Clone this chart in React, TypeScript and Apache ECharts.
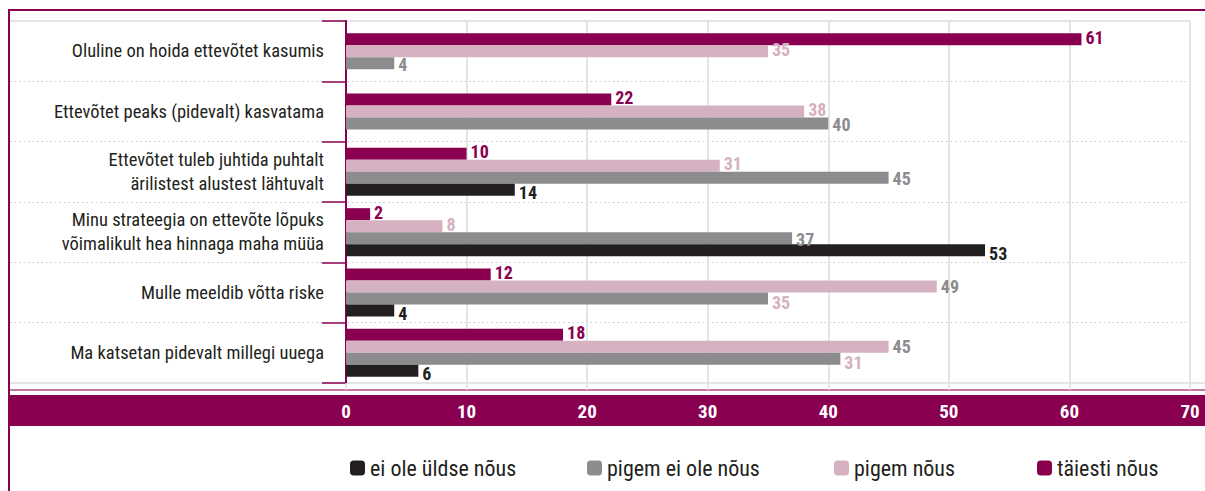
import React, { useEffect, useRef } from "react";
import * as echarts from "echarts";

const categories = [
  "Oluline on hoida ettevõtet kasumis",
  "Ettevõtet peaks (pidevalt) kasvatama",
  "Ettevõtet tuleb juhtida puhtalt\närilistest alustest lähtuvalt",
  "Minu strateegia on ettevõte lõpuks\nvõimalikult hea hinnaga maha müüa",
  "Mulle meeldib võtta riske",
  "Ma katsetan pidevalt millegi uuega",
];

const seriesNames = ["täiesti nõus", "pigem nõus", "pigem ei ole nõus", "ei ole üldse nõus"];
const legendOrder = ["ei ole üldse nõus", "pigem ei ole nõus", "pigem nõus", "täiesti nõus"];

const taiestiNous: (number | null)[] = [61, 22, 10, 2, 12, 18];
const pigemNous: (number | null)[] = [35, 38, 31, 8, 49, 45];
const pigemEiOleNous: (number | null)[] = [4, 40, 45, 37, 35, 41];
const eiOleUldseNous: (number | null)[] = [null, null, 14, 53, 4, 6];

// value labels exactly as printed in the source graphic
const taiestiNousLabels = ["61", "22", "10", "2", "12", "18"];
const pigemNousLabels = ["35", "38", "31", "8", "49", "45"];
const pigemEiOleNousLabels = ["4", "40", "45", "37", "35", "31"];
const eiOleUldseNousLabels = ["", "", "14", "53", "4", "6"];

const xTickMin = 0;
const xTickMax = 70;
const xTickStep = 10;

// rows where the printed label colours of "pigem nõus" and "pigem ei ole nõus" are swapped
const swappedLabelRows = [4, 5];

const MAGENTA = "#8A0050";
const PINK = "#D5B1C1";
const GREY = "#8C8C8E";
const BLACK = "#231F20";
const FONT = "'Roboto Condensed', 'Open Sans Condensed', 'DejaVu Sans Condensed', sans-serif";

export default function App() {
  const ref = useRef<HTMLDivElement>(null);

  useEffect(() => {
    document.body.style.margin = "0";
    if (!ref.current) return;
    const chart = echarts.init(ref.current, null, { renderer: "svg" });
    const W = 1205;
    const H = 491;

    const values = [taiestiNous, pigemNous, pigemEiOleNous, eiOleUldseNous];
    const labels = [taiestiNousLabels, pigemNousLabels, pigemEiOleNousLabels, eiOleUldseNousLabels];
    const colors = [MAGENTA, PINK, GREY, BLACK];
    const labelColors = [MAGENTA, PINK, GREY, BLACK];
    const labelOffsets = [-2, -2, 1, 3];

    const fullRow = (i: number) => eiOleUldseNous[i] !== null;

    const makeSeries = (s: number, axis: number) => ({
      type: "bar",
      name: seriesNames[s],
      xAxisIndex: 0,
      yAxisIndex: axis,
      barWidth: 12,
      barGap: "0%",
      itemStyle: { color: colors[s] },
      data: values[s].map((v, i) => {
        const inThisAxis = axis === 0 ? fullRow(i) : !fullRow(i);
        if (!inThisAxis || v === null) return null;
        let lc = labelColors[s];
        let off = labelOffsets[s];
        if (swappedLabelRows.includes(i)) {
          if (s === 1) { lc = GREY; off = 0; }
          if (s === 2) { lc = PINK; off = 4; }
        }
        return {
          value: v,
          label: { color: lc, offset: [0, off], formatter: labels[s][i] },
        };
      }),
      label: {
        show: true,
        position: "right",
        distance: 4,
        fontFamily: FONT,
        fontWeight: "bold",
        fontSize: 18,
      },
    });

    const series: any[] = [];
    for (let s = 0; s < 4; s++) series.push(makeSeries(s, 0));
    for (let s = 0; s < 3; s++) series.push(makeSeries(s, 1));

    const legendLefts = [345, 582, 829, 1032];
    const legends = legendOrder.map((name, k) => ({
      data: [name],
      left: legendLefts[k],
      top: 452,
      icon: "roundRect",
      itemWidth: 15,
      itemHeight: 15,
      selectedMode: false,
      textStyle: { fontFamily: FONT, fontSize: 22, color: BLACK },
    }));

    const option: any = {
      animation: false,
      textStyle: { fontFamily: FONT },
      grid: [
        { left: 346, right: W - 1190, top: 21, bottom: H - 383, outerBoundsMode: "none", containLabel: false },
        { left: 10, right: W - 1190, top: 21, bottom: H - 383, outerBoundsMode: "none", containLabel: false },
      ],
      xAxis: [
        {
          gridIndex: 0,
          type: "value",
          min: xTickMin,
          max: xTickMax,
          interval: xTickStep,
          axisLine: { show: false },
          axisTick: { show: true, length: 7, lineStyle: { color: "#DDDDDD", width: 1.5 } },
          splitLine: { show: true, lineStyle: { color: "#DDDDDD", width: 1.5 } },
          axisLabel: {
            color: "#FFFFFF",
            fontFamily: FONT,
            fontWeight: "bold",
            fontSize: 19,
            margin: 19,
          },
        },
        { gridIndex: 1, type: "value", show: false, min: 0, max: 1 },
      ],
      yAxis: [
        {
          gridIndex: 0,
          type: "category",
          inverse: true,
          data: categories,
          axisLine: { show: true, lineStyle: { color: MAGENTA, width: 2 } },
          axisTick: { show: true, length: 24, lineStyle: { color: MAGENTA, width: 1.5 } },
          splitLine: { show: false },
          axisLabel: {
            color: BLACK,
            fontFamily: FONT,
            fontSize: 18.5,
            lineHeight: 24,
            margin: 22,
            align: "right",
          },
        },
        {
          gridIndex: 0,
          type: "category",
          inverse: true,
          data: categories,
          show: false,
        },
        {
          gridIndex: 1,
          type: "category",
          inverse: true,
          data: categories,
          axisLine: { show: false },
          axisTick: { show: false },
          axisLabel: { show: false },
          splitLine: {
            show: true,
            showMinLine: false,
            showMaxLine: false,
            lineStyle: { color: "#C8C8C8", width: 1, type: [1.5, 3] },
          },
        },
      ],
      legend: legends,
      graphic: {
        elements: [
          {
            type: "rect",
            z: -10,
            shape: { x: 8, y: 395, width: W - 8, height: 31 },
            style: { fill: MAGENTA },
            silent: true,
          },
          {
            type: "line",
            shape: { x1: 8, y1: 10, x2: W, y2: 10 },
            style: { stroke: MAGENTA, lineWidth: 2 },
            silent: true,
          },
          {
            type: "line",
            shape: { x1: 9, y1: 10, x2: 9, y2: H },
            style: { stroke: MAGENTA, lineWidth: 2 },
            silent: true,
          },
          {
            type: "line",
            z: -5,
            shape: { x1: 10, y1: 21, x2: 1190, y2: 21 },
            style: { stroke: "#DDDDDD", lineWidth: 1.5 },
            silent: true,
          },
          {
            type: "line",
            z: -5,
            shape: { x1: 10, y1: 383, x2: W, y2: 383 },
            style: { stroke: "#DDDDDD", lineWidth: 1.5 },
            silent: true,
          },
          {
            type: "line",
            shape: { x1: 10, y1: 390, x2: W, y2: 390 },
            style: { stroke: "#B24A86", lineWidth: 1.5 },
            silent: true,
          },
        ],
      },
      series,
    };

    chart.setOption(option);
    return () => chart.dispose();
  }, []);

  return <div ref={ref} style={{ width: 1205, height: 491 }} />;
}
